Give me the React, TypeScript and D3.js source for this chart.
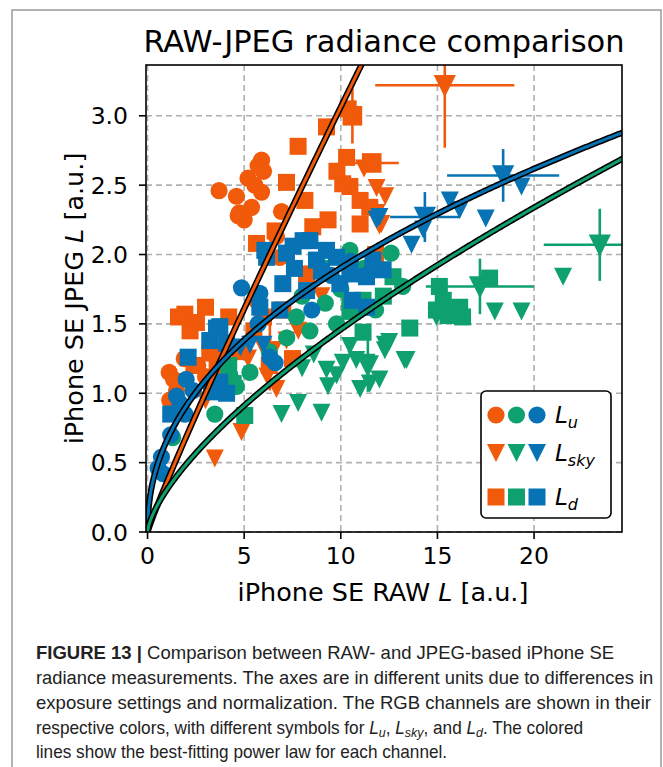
import React, { useLayoutEffect, useRef, useState } from "react";
import * as d3 from "d3";

// ---------- data ----------
const xTicks = [0, 5, 10, 15, 20];
const xTickLabels = ["0", "5", "10", "15", "20"];
const yTicks = [0, 0.5, 1.0, 1.5, 2.0, 2.5, 3.0];
const yTickLabels = ["0.0", "0.5", "1.0", "1.5", "2.0", "2.5", "3.0"];

const channelNames = ["R", "G", "B"];
const channelColors = ["#F05A0A", "#0FA070", "#0772B4"];
// power-law fits  JPEG = a * RAW^b
const fitA = [0.36, 0.305, 0.66];
const fitB = [0.93, 0.68, 0.46];

// [RAW L, JPEG L]
const orangeLu: [number, number][] = [
  [3.7, 2.46], [4.6, 2.42], [5.2, 2.55], [5.72, 2.64], [5.9, 2.68], [4.69, 2.28],
  [5.38, 2.34], [5.9, 2.45], [5.55, 2.5], [6.93, 2.31], [5.0, 2.25], [6.0, 2.6],
  [4.75, 2.3], [1.12, 1.15], [1.5, 1.02], [1.15, 0.95], [2.28, 1.51], [1.9, 1.25],
  [1.35, 1.1], [3.5, 1.3], [4.5, 1.05], [6.84, 1.98], [5.64, 1.67], [2.6, 1.2],
  [6.67, 2.13], [3.0, 1.12],
];
const orangeLsky: [number, number][] = [
  [11.85, 2.48], [12.0, 2.21], [11.85, 2.3], [12.1, 2.22], [3.48, 0.53], [4.86, 0.72],
  [5.98, 1.33], [6.5, 1.31], [7.19, 1.38], [6.67, 1.03], [4.0, 1.15], [5.2, 1.25],
  [7.8, 1.45], [9.0, 1.7], [12.3, 2.42], [6.2, 1.12], [3.0, 0.95], [11.2, 2.62],
];
const orangeLd: [number, number][] = [
  [10.38, 3.05], [9.26, 2.92], [7.79, 2.78], [7.19, 2.52], [8.14, 2.39], [9.34, 2.25],
  [10.3, 2.7], [10.47, 2.49], [11.0, 2.39], [11.0, 2.22], [11.5, 2.34], [8.55, 2.2],
  [5.64, 2.08], [8.23, 1.86], [10.1, 2.51], [6.6, 2.17], [9.8, 2.6], [1.93, 1.57],
  [2.53, 1.51], [3.22, 1.29], [1.6, 1.55], [2.2, 1.45], [3.0, 1.62], [4.2, 1.55],
  [4.8, 1.3], [5.5, 1.45], [3.6, 1.2], [6.0, 1.55], [7.0, 1.6], [6.3, 1.2],
  [7.5, 1.25], [2.4, 1.2], [11.8, 2.0],
];
const greenLu: [number, number][] = [
  [3.48, 0.85], [4.26, 1.13], [4.6, 1.05], [5.3, 1.15], [6.3, 1.3], [7.2, 1.4],
  [8.4, 1.45], [9.78, 1.5], [9.2, 1.65], [10.47, 2.03], [11.2, 1.9], [12.6, 2.01],
  [13.2, 1.77], [10.0, 1.75], [8.0, 1.7], [11.8, 1.6], [1.3, 0.68], [7.7, 1.55],
];
const greenLsky: [number, number][] = [
  [6.93, 0.85], [7.79, 0.93], [9.0, 0.86], [9.34, 1.05], [9.78, 1.13], [11.0, 1.03],
  [11.33, 1.22], [12.28, 1.31], [12.5, 1.37], [13.4, 1.24], [10.1, 1.22], [10.47, 1.34],
  [9.26, 1.17], [10.8, 1.24], [11.5, 1.07], [12.28, 1.35], [12.0, 1.1], [13.3, 1.24],
  [14.95, 1.55], [17.97, 1.59], [19.35, 1.59], [21.5, 1.84], [8.6, 1.28], [8.0, 1.18],
];
const greenLd: [number, number][] = [
  [15.1, 1.77], [14.95, 1.6], [15.55, 1.56], [16.3, 1.55], [16.15, 1.62], [13.57, 1.47],
  [17.7, 1.83], [12.7, 1.84], [5.03, 0.84], [10.47, 1.66], [4.43, 1.07], [11.15, 1.44],
  [10.47, 1.59], [11.15, 1.67], [4.2, 1.2], [15.3, 1.67], [9.0, 1.9], [12.2, 1.7],
];
const blueLu: [number, number][] = [
  [0.72, 0.54], [0.81, 0.42], [1.2, 0.7], [1.67, 0.93], [1.93, 0.85], [2.36, 1.02],
  [2.0, 1.1], [4.86, 1.76], [5.81, 1.72], [5.72, 1.5], [6.33, 1.26], [6.6, 1.22],
  [8.5, 1.6], [9.5, 1.85], [10.5, 1.95], [11.3, 1.85], [0.55, 0.46], [1.5, 0.98],
];
const blueLsky: [number, number][] = [
  [19.35, 2.49], [15.64, 2.39], [16.15, 2.32], [17.5, 2.26], [14.26, 2.18], [13.66, 2.07],
  [11.85, 2.25], [12.0, 2.27], [4.8, 1.33], [5.3, 1.35], [6.0, 1.35],
];
const blueLd: [number, number][] = [
  [8.4, 2.1], [7.53, 2.06], [9.26, 2.03], [9.78, 1.98], [8.74, 1.96], [6.16, 1.98],
  [10.47, 1.86], [9.95, 1.79], [11.33, 1.84], [12.19, 1.89], [7.0, 1.79], [8.23, 1.74],
  [10.6, 1.67], [11.33, 1.62], [5.81, 1.62], [6.84, 1.6], [3.74, 1.48], [3.22, 1.38],
  [4.09, 1.36], [11.66, 1.96], [2.1, 1.26], [3.57, 1.47], [3.31, 1.01], [4.09, 1.0],
  [3.74, 1.08], [8.05, 2.1], [6.07, 2.03], [7.19, 2.01], [9.0, 1.88], [7.6, 1.9],
  [1.2, 0.85],
];

// [RAW L, JPEG L, x error, y error]
const orangeLskyErr: [number, number, number, number][] = [
  [15.38, 3.22, 3.6, 0.45], [6.33, 1.3, 0, 0.28],
];
const orangeLdErr: [number, number, number, number][] = [
  [11.6, 2.66, 1.4, 0], [10.6, 3.0, 0, 0.2],
];
const greenLskyErr: [number, number, number, number][] = [
  [23.4, 2.07, 2.9, 0.26], [17.2, 1.77, 2.8, 0.2], [11.4, 1.2, 0, 0.19],
];
const blueLskyErr: [number, number, number, number][] = [
  [18.4, 2.57, 2.9, 0.19], [14.35, 2.27, 1.8, 0.18],
];

const legendLabels = ["u", "sky", "d"];
const captionLines = [
  "Comparison between RAW- and JPEG-based iPhone SE",
  "radiance measurements. The axes are in different units due to differences in",
  "exposure settings and normalization. The RGB channels are shown in their",
  "respective colors, with different symbols for ",
  "lines show the best-fitting power law for each channel.",
];

// ---------- layout ----------
const W = 663, H = 767;
const L = 146, R = 622, T = 65, B = 532;
const x = d3.scaleLinear().domain([-0.08, 24.55]).range([L, R]);
const y = d3.scaleLinear().domain([0, 3.366]).range([B, T]);

const CIRC_R = 8.6;
const SQ = 17;
const TRI = 18;

function Marker({ kind, cx, cy, color }: { kind: number; cx: number; cy: number; color: string }) {
  if (kind === 0) return <circle cx={cx} cy={cy} r={CIRC_R} fill={color} />;
  if (kind === 1) {
    const h = TRI / 2;
    return (
      <path d={`M${cx - h},${cy - h}L${cx + h},${cy - h}L${cx},${cy + h}Z`} fill={color} />
    );
  }
  return <rect x={cx - SQ / 2} y={cy - SQ / 2} width={SQ} height={SQ} fill={color} />;
}

// caption line horizontally condensed to a target width
function FitText({ tx, ty, width, children }: { tx: number; ty: number; width: number; children: React.ReactNode }) {
  const ref = useRef<SVGTextElement>(null);
  const [s, setS] = useState(0.9);
  useLayoutEffect(() => {
    if (ref.current) {
      const w = ref.current.getComputedTextLength();
      if (w > 0) setS(width / w);
    }
  }, [width]);
  return (
    <text ref={ref} transform={`translate(${tx},${ty}) scale(${s},1)`} x={0} y={0}>
      {children}
    </text>
  );
}

export default function App() {
  const series = [
    [orangeLu, orangeLsky, orangeLd],
    [greenLu, greenLsky, greenLd],
    [blueLu, blueLsky, blueLd],
  ];
  const errs = [
    [[], orangeLskyErr, orangeLdErr],
    [[], greenLskyErr, []],
    [[], blueLskyErr, []],
  ] as [number, number, number, number][][][];

  const xs = d3.range(0, 401).map((i) => (i / 400) * 24.7);
  const fitLine = (c: number) =>
    d3.line<number>().x((v) => x(v)).y((v) => y(fitA[c] * Math.pow(v, fitB[c])))(xs) || "";

  const fontChart = "'DejaVu Sans', sans-serif";
  const capFont = "'Liberation Sans', Arial, sans-serif";

  return (
    <svg
      width={W}
      height={H}
      style={{ position: "absolute", left: 0, top: 0, background: "#fff" }}
      xmlns="http://www.w3.org/2000/svg"
    >
      <rect x={0} y={0} width={W} height={H} fill="#fff" />
      {/* page frame */}
      <path d={`M12,${H}L12,10L661,10L661,${H}`} fill="none" stroke="#9a9a9a" strokeWidth={1.5} />

      <defs>
        <clipPath id="plotclip">
          <rect x={L} y={T} width={R - L} height={B - T} />
        </clipPath>
      </defs>

      {/* title */}
      <text x={384} y={52} textAnchor="middle" fontFamily={fontChart} fontSize={30.5} fill="#000">
        RAW-JPEG radiance comparison
      </text>

      {/* grid */}
      <g stroke="#b0b0b0" strokeWidth={1.6} strokeDasharray="6,4">
        {xTicks.map((t) => (
          <line key={"gx" + t} x1={x(t)} x2={x(t)} y1={T} y2={B} />
        ))}
        {yTicks.map((t) => (
          <line key={"gy" + t} x1={L} x2={R} y1={y(t)} y2={y(t)} />
        ))}
      </g>

      {/* data */}
      <g clipPath="url(#plotclip)">
        {series.map((ch, c) =>
          ch.map((pts, k) => (
            <g key={`s${c}-${k}`}>
              {errs[c][k].map(([ex, ey, dx, dy], i) => (
                <g key={"e" + i} stroke={channelColors[c]} strokeWidth={2.6}>
                  {dx > 0 && <line x1={x(ex - dx)} x2={x(ex + dx)} y1={y(ey)} y2={y(ey)} />}
                  {dy > 0 && <line x1={x(ex)} x2={x(ex)} y1={y(ey - dy)} y2={y(ey + dy)} />}
                  <Marker kind={k} cx={x(ex)} cy={y(ey)} color={channelColors[c]} />
                </g>
              ))}
              {pts.map(([px, py], i) => (
                <Marker key={i} kind={k} cx={x(px)} cy={y(py)} color={channelColors[c]} />
              ))}
            </g>
          ))
        )}
        {/* fits */}
        {[0, 2, 1].map((c) => (
          <g key={"fit" + c} fill="none">
            <path d={fitLine(c)} stroke="#000" strokeWidth={6.2} />
            <path d={fitLine(c)} stroke={channelColors[c]} strokeWidth={3} />
          </g>
        ))}
      </g>

      {/* axes frame */}
      <rect x={L} y={T} width={R - L} height={B - T} fill="none" stroke="#000" strokeWidth={1.6} />

      {/* ticks */}
      <g stroke="#000" strokeWidth={1.6}>
        {xTicks.map((t) => (
          <line key={"tx" + t} x1={x(t)} x2={x(t)} y1={B} y2={B + 7} />
        ))}
        {yTicks.map((t) => (
          <line key={"ty" + t} x1={L - 7} x2={L} y1={y(t)} y2={y(t)} />
        ))}
      </g>
      <g fontFamily={fontChart} fontSize={23.5} fill="#000">
        {xTicks.map((t, i) => (
          <text key={"lx" + t} x={x(t)} y={564} textAnchor="middle">
            {xTickLabels[i]}
          </text>
        ))}
        {yTicks.map((t, i) => (
          <text key={"ly" + t} x={128} y={y(t) + 8.5} textAnchor="end">
            {yTickLabels[i]}
          </text>
        ))}
      </g>

      {/* axis labels */}
      <text x={383} y={601} textAnchor="middle" fontFamily={fontChart} fontSize={25.5}>
        iPhone SE RAW <tspan fontStyle="italic">L</tspan> [a.u.]
      </text>
      <text
        transform={`translate(83, ${(T + B) / 2}) rotate(-90)`}
        textAnchor="middle"
        fontFamily={fontChart}
        fontSize={25.5}
      >
        iPhone SE JPEG <tspan fontStyle="italic">L</tspan> [a.u.]
      </text>

      {/* legend */}
      <rect x={481} y={391} width={130} height={127} rx={5} fill="#fff" stroke="#000" strokeWidth={1.6} />
      {[415, 453, 497].map((ly, k) => (
        <g key={"lg" + k}>
          {channelColors.map((col, c) => (
            <Marker key={c} kind={k} cx={496 + c * 20.5} cy={ly} color={col} />
          ))}
          <text x={555} y={ly + 8} fontFamily={fontChart} fontSize={23}>
            <tspan fontStyle="italic">L</tspan>
            <tspan fontStyle="italic" fontSize={16} dy={5}>
              {legendLabels[k]}
            </tspan>
          </text>
        </g>
      ))}

      {/* caption */}
      <g fontFamily={capFont} fontSize={18} fill="#222">
        <FitText tx={36} ty={659} width={578}>
          <tspan fontWeight="bold">FIGURE 13 | </tspan>
          {captionLines[0]}
        </FitText>
        <FitText tx={36} ty={684} width={617}>
          {captionLines[1]}
        </FitText>
        <FitText tx={36} ty={709} width={615}>
          {captionLines[2]}
        </FitText>
        <FitText tx={36} ty={734} width={547}>
          {captionLines[3]}
          <tspan fontStyle="italic">L</tspan>
          <tspan fontStyle="italic" fontSize={13} dy={3}>u</tspan>
          <tspan dy={-3}>, </tspan>
          <tspan fontStyle="italic">L</tspan>
          <tspan fontStyle="italic" fontSize={13} dy={3}>sky</tspan>
          <tspan dy={-3}>, and </tspan>
          <tspan fontStyle="italic">L</tspan>
          <tspan fontStyle="italic" fontSize={13} dy={3}>d</tspan>
          <tspan dy={-3}>. The colored</tspan>
        </FitText>
        <FitText tx={36} ty={758} width={411}>
          {captionLines[4]}
        </FitText>
      </g>
    </svg>
  );
}
